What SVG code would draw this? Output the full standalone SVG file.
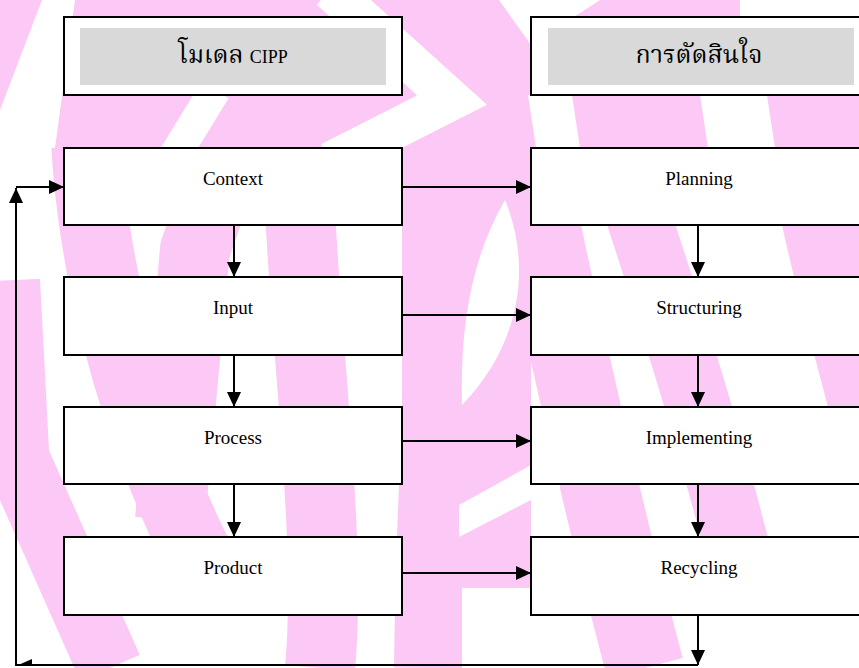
<svg xmlns="http://www.w3.org/2000/svg" width="859" height="668" viewBox="0 0 859 668">
<style>
.bg{fill:none;stroke:#FCC8F5;stroke-linecap:butt}
.pk{fill:#FCC8F5;stroke:none}
.wh{fill:#ffffff;stroke:none}
.whs{fill:none;stroke:#ffffff;stroke-linecap:butt}
.box{fill:#ffffff;stroke:#000000;stroke-width:2}
.hdr{fill:#D9D9D9;stroke:none}
.lbl{font-family:"Liberation Serif","Times New Roman",serif;font-size:19px;fill:#000000;text-anchor:middle}
.th{font-family:"Liberation Serif","Noto Serif Thai","Noto Sans Thai","DejaVu Serif",serif;font-size:25px;fill:#000000;text-anchor:middle}
.cn{stroke:#000000;stroke-width:2;fill:none}
</style>
<defs>
<marker id="ah" viewBox="0 0 15 14" refX="15" refY="7" markerWidth="15" markerHeight="14" markerUnits="userSpaceOnUse" orient="auto">
<path d="M0,0 L15,7 L0,14 z" fill="#000000"/>
</marker>
</defs>
<rect x="0" y="0" width="859" height="668" fill="#ffffff"/>
<g id="background">
<rect class="pk" x="0" y="0" width="859" height="148"/>
<rect class="pk" x="402" y="100" width="129" height="490"/>
<path class="bg" stroke-width="65" d="M-40,330 L110,668"/>
<path class="bg" stroke-width="50" d="M15,280 L25,470"/>
<path class="bg" stroke-width="70" d="M85,100 C85,250 130,420 200,560"/>
<path class="bg" stroke-width="70" d="M250,90 L195,250 L170,520"/>
<path class="bg" stroke-width="70" d="M300,95 C290,250 335,510 320,668"/>
<path class="bg" stroke-width="68" d="M470,100 C440,250 430,510 428,668"/>
<path class="bg" stroke-width="78" d="M520,120 C545,250 600,500 645,668"/>
<path class="bg" stroke-width="65" d="M600,100 C650,250 700,400 740,560"/>
<path class="bg" stroke-width="75" d="M790,60 C820,250 840,300 870,420"/>
<polygon class="wh" points="42,0 75,0 55,148 0,148 0,110"/>
<path class="whs" stroke-width="40" d="M330,-10 L452,100 L330,162"/>
<path class="whs" stroke-width="32" d="M172,160 L215,90"/>
<polygon class="wh" points="499,0 600,0 531,45"/>
<rect class="wh" x="740" y="0" width="119" height="17"/>
<polygon class="wh" points="528,95 572,95 580,148 536,148"/>
<polygon class="wh" points="700,95 767,95 775,148 708,148"/>
<path class="wh" d="M505,200 C530,260 525,340 462,405 C460,330 470,260 505,200 z"/>
<polygon class="wh" points="459,505 531,465 560,460 560,500 531,500 459,537"/>
<rect class="wh" x="462" y="588" width="69" height="80"/>
</g>
<g id="header-cipp">
<rect class="box" x="64" y="17" width="338" height="78"/>
<rect class="hdr" x="80" y="28" width="306" height="57"/>
<text class="th" x="233" y="63">โมเดล <tspan font-size="18">CIPP</tspan></text>
</g>
<g id="header-decision">
<rect class="box" x="531" y="17" width="340" height="78"/>
<rect class="hdr" x="548" y="28" width="306" height="57"/>
<text class="th" x="699" y="63">การตัดสินใจ</text>
</g>
<g id="connectors">
<line class="cn" x1="234" y1="225" x2="234" y2="277" marker-end="url(#ah)"/>
<line class="cn" x1="234" y1="355" x2="234" y2="407" marker-end="url(#ah)"/>
<line class="cn" x1="234" y1="484" x2="234" y2="537" marker-end="url(#ah)"/>
<line class="cn" x1="698" y1="225" x2="698" y2="277" marker-end="url(#ah)"/>
<line class="cn" x1="698" y1="355" x2="698" y2="407" marker-end="url(#ah)"/>
<line class="cn" x1="698" y1="484" x2="698" y2="537" marker-end="url(#ah)"/>
<line class="cn" x1="402" y1="187" x2="531" y2="187" marker-end="url(#ah)"/>
<line class="cn" x1="402" y1="315" x2="531" y2="315" marker-end="url(#ah)"/>
<line class="cn" x1="402" y1="441" x2="531" y2="441" marker-end="url(#ah)"/>
<line class="cn" x1="402" y1="573" x2="531" y2="573" marker-end="url(#ah)"/>
<line class="cn" x1="698" y1="615" x2="698" y2="665" marker-end="url(#ah)"/>
<polyline class="cn" points="698,665 16,665 16,188"/>
<path d="M9,203 L16,188 L23,203 z" fill="#000000"/>
<line class="cn" x1="16" y1="187" x2="64" y2="187" marker-end="url(#ah)"/>
<path d="M16,666 L32,659 L32,666 z" fill="#000000"/>
</g>
<g id="node-context">
<rect class="box" x="64" y="148" width="338" height="77"/>
<text class="lbl" x="233" y="185">Context</text>
</g>
<g id="node-input">
<rect class="box" x="64" y="277" width="338" height="78"/>
<text class="lbl" x="233" y="314">Input</text>
</g>
<g id="node-process">
<rect class="box" x="64" y="407" width="338" height="77"/>
<text class="lbl" x="233" y="444">Process</text>
</g>
<g id="node-product">
<rect class="box" x="64" y="537" width="338" height="78"/>
<text class="lbl" x="233" y="574">Product</text>
</g>
<g id="node-planning">
<rect class="box" x="531" y="148" width="340" height="77"/>
<text class="lbl" x="699" y="185">Planning</text>
</g>
<g id="node-structuring">
<rect class="box" x="531" y="277" width="340" height="78"/>
<text class="lbl" x="699" y="314">Structuring</text>
</g>
<g id="node-implementing">
<rect class="box" x="531" y="407" width="340" height="77"/>
<text class="lbl" x="699" y="444">Implementing</text>
</g>
<g id="node-recycling">
<rect class="box" x="531" y="537" width="340" height="78"/>
<text class="lbl" x="699" y="574">Recycling</text>
</g>
</svg>
